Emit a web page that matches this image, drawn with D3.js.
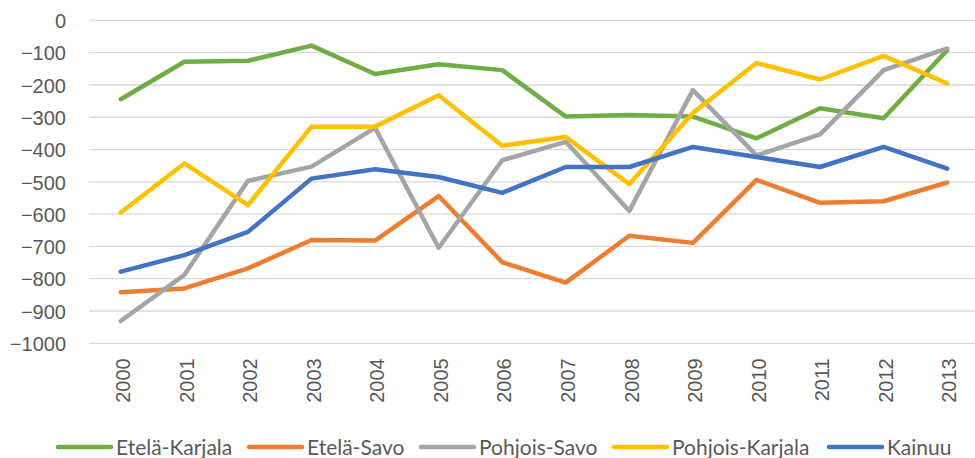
<!DOCTYPE html>
<html>
<head>
<meta charset="utf-8">
<script src="https://cdn.jsdelivr.net/npm/d3@7.9.0/dist/d3.min.js"></script>
<style>
  body { margin: 0; background: #fff; }
  svg { display: block; font-family: Lato, "Open Sans", sans-serif; }
  .tick text { fill: #595959; font-size: 20px; }
  .legend text { fill: #595959; font-size: 21px; }
</style>
</head>
<body>
<svg width="975" height="458"></svg>
<script>
const years = ["2000","2001","2002","2003","2004","2005","2006","2007","2008","2009","2010","2011","2012","2013"];
const yTicks = [0, -100, -200, -300, -400, -500, -600, -700, -800, -900, -1000];

const eteläKarjala = [-244, -128, -125, -78, -166, -136, -154, -298, -293, -298, -365, -272, -303, -92];
const eteläSavo = [-842, -830, -768, -680, -682, -544, -749, -812, -667, -689, -494, -565, -560, -502];
const pohjoisSavo = [-931, -788, -497, -453, -333, -704, -433, -376, -590, -216, -418, -353, -154, -87];
const pohjoisKarjala = [-595, -443, -572, -329, -329, -232, -388, -361, -507, -287, -132, -183, -110, -195];
const kainuu = [-778, -727, -655, -490, -461, -485, -534, -454, -454, -392, -423, -454, -392, -459];

const series = [
  { name: "Etelä-Karjala", values: eteläKarjala, color: "#70ad47" },
  { name: "Etelä-Savo", values: eteläSavo, color: "#ed7d31" },
  { name: "Pohjois-Savo", values: pohjoisSavo, color: "#a5a5a5" },
  { name: "Pohjois-Karjala", values: pohjoisKarjala, color: "#ffc000" },
  { name: "Kainuu", values: kainuu, color: "#4472c4" }
];

const svg = d3.select("svg");
const plotLeft = 89, plotRight = 979, plotTop = 20.4, plotBottom = 343.3;

const x = d3.scaleBand().domain(years).range([plotLeft, plotRight]);
const y = d3.scaleLinear().domain([-1000, 0]).range([plotBottom, plotTop]);

// gridlines
svg.append("g")
  .selectAll("line")
  .data(yTicks)
  .join("line")
  .attr("x1", plotLeft)
  .attr("x2", 975)
  .attr("y1", d => y(d))
  .attr("y2", d => y(d))
  .attr("stroke", "#d9d9d9")
  .attr("stroke-width", 1.3);

// y axis labels
const yAxis = svg.append("g")
  .attr("transform", `translate(${plotLeft},0)`)
  .call(d3.axisLeft(y).tickValues(yTicks).tickSize(0).tickPadding(23).tickFormat(d3.format("d")));
yAxis.select(".domain").remove();
yAxis.selectAll("text").attr("dy", "0.36em");

// x axis labels (rotated)
const xAxis = svg.append("g")
  .attr("transform", `translate(0,${plotBottom})`)
  .call(d3.axisBottom(x).tickSize(0).tickPadding(0));
xAxis.select(".domain").remove();
xAxis.selectAll("text")
  .attr("transform", "translate(2,15) rotate(-90)")
  .attr("text-anchor", "end")
  .attr("x", 0)
  .attr("y", 0)
  .attr("dy", "0.36em");

// lines
const line = d3.line()
  .x((d, i) => x(years[i]) + x.bandwidth() / 2)
  .y(d => y(d));

svg.append("g")
  .selectAll("path")
  .data(series)
  .join("path")
  .attr("d", d => line(d.values))
  .attr("fill", "none")
  .attr("stroke", d => d.color)
  .attr("stroke-width", 4.5)
  .attr("stroke-linejoin", "round")
  .attr("stroke-linecap", "round");

// legend
const legendX = [58, 249, 421, 614, 829];
const legend = svg.append("g").attr("class", "legend")
  .selectAll("g")
  .data(series)
  .join("g")
  .attr("transform", (d, i) => `translate(${legendX[i]},447)`);
legend.append("line")
  .attr("x1", 0).attr("x2", 53)
  .attr("stroke", d => d.color)
  .attr("stroke-width", 4.5)
  .attr("stroke-linecap", "round");
legend.append("text")
  .attr("x", 58)
  .attr("dy", "0.36em")
  .text(d => d.name);
</script>
</body>
</html>
